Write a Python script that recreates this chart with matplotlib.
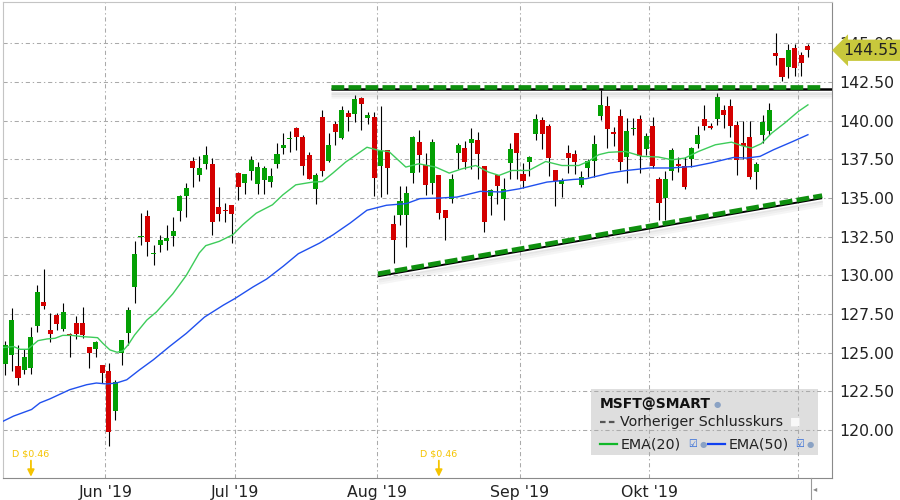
import numpy as np
import pandas as pd
import matplotlib
matplotlib.use('Agg')
import matplotlib.pyplot as plt
import matplotlib.transforms as mtrans
import matplotlib.patheffects as pe
from matplotlib.patches import Rectangle
from matplotlib.lines import Line2D

# trading days shown (May 9 - Nov 4, 2019)
days = pd.bdate_range('2019-05-09', '2019-11-04')
days = days[~days.isin(pd.to_datetime(['2019-05-27', '2019-07-04', '2019-09-02']))]

opens = [124.28, 124.88, 124.15, 123.85, 123.98, 126.75, 128.27, 126.47, 127.43, 126.53, 126.21, 126.92, 126.92, 125.37, 125.25, 124.20,
         123.83, 121.26, 124.95, 126.30, 129.24, 132.46, 133.85, 131.36, 131.98, 132.24, 132.56, 134.13, 135.10, 137.39, 136.49, 137.22, 137.22, 134.41, 134.24, 134.56,
         136.62, 136.00, 136.75, 135.93, 136.17, 136.04, 137.22, 138.22, 138.80, 139.50, 138.95, 137.75, 135.56, 140.25, 137.41, 139.76, 138.90, 140.50, 140.42, 141.48, 140.19, 140.25,
         137.04, 138.11, 133.30, 133.88, 133.88, 136.63, 138.65, 137.15, 135.99, 136.46, 134.21, 134.96, 137.92, 138.24, 138.56, 138.76, 137.06, 135.13, 136.46, 134.96, 137.27, 139.21,
         136.55, 137.35, 139.14, 140.04, 139.68, 136.83, 135.91, 137.91, 137.82, 135.86, 136.93, 137.40, 140.32, 140.95, 139.25, 140.30, 137.63, 139.44, 140.09, 138.17,
         139.66, 136.23, 134.98, 136.77, 137.20, 137.07, 137.50, 138.47, 140.11, 139.68, 140.09, 140.69, 140.95, 139.72, 138.53, 138.97, 136.70, 139.07, 139.35, 144.40, 144.07, 143.45, 144.68, 144.27, 144.83]
highs = [125.78, 127.86, 125.50, 125.22, 126.64, 129.36, 130.39, 127.58, 127.54, 128.22, 126.25, 127.37, 127.94, 125.37, 125.76, 124.20,
         124.33, 123.25, 125.82, 127.97, 132.24, 134.02, 134.24, 131.98, 132.63, 133.27, 133.74, 135.20, 135.95, 137.67, 137.71, 138.36, 137.56, 135.72, 134.69, 134.56,
         136.71, 136.56, 137.74, 137.33, 137.09, 136.94, 138.57, 139.20, 139.30, 139.57, 139.10, 137.97, 136.63, 140.69, 139.19, 140.00, 140.97, 140.70, 141.69, 141.50, 140.57, 140.54,
         140.97, 138.11, 133.88, 135.77, 135.77, 139.03, 139.42, 137.92, 138.82, 136.46, 134.21, 136.57, 138.56, 138.71, 139.51, 139.29, 137.06, 135.60, 136.46, 136.29, 138.56, 139.21,
         137.26, 137.74, 140.43, 140.22, 139.78, 136.83, 136.27, 138.43, 138.10, 136.77, 137.54, 139.07, 141.98, 141.60, 139.60, 140.73, 140.15, 140.15, 140.37, 139.18,
         140.26, 136.38, 136.75, 138.25, 137.67, 137.67, 138.32, 139.66, 141.01, 139.83, 141.77, 141.01, 141.40, 140.00, 140.00, 140.00, 137.35, 140.37, 141.17, 145.69, 144.07, 144.96, 144.96, 144.42, 144.96]
lows = [123.53, 123.79, 122.93, 123.64, 123.64, 126.36, 127.82, 125.72, 126.47, 126.40, 124.69, 125.91, 125.97, 123.98, 124.69, 123.04,
        118.97, 120.64, 124.18, 125.50, 128.21, 131.94, 131.23, 130.65, 131.49, 131.62, 131.88, 133.49, 133.74, 135.68, 136.10, 136.90, 132.63, 133.53, 133.42, 132.10,
        134.88, 135.27, 136.17, 135.27, 135.27, 135.74, 136.96, 137.84, 137.97, 138.10, 136.46, 136.20, 134.60, 136.40, 137.33, 138.44, 138.82, 139.30, 139.90, 139.40, 139.79, 135.13,
        135.06, 135.28, 130.77, 133.24, 131.85, 135.99, 136.67, 135.17, 135.28, 133.67, 132.27, 134.70, 136.89, 136.89, 136.89, 136.24, 132.77, 133.93, 134.64, 133.56, 136.24, 136.24,
        135.62, 136.40, 138.77, 138.17, 136.44, 134.50, 135.04, 136.62, 136.55, 135.69, 136.38, 136.38, 140.04, 138.21, 138.36, 136.81, 135.95, 139.07, 136.60, 137.78,
        136.92, 133.58, 133.58, 136.16, 136.70, 135.56, 137.03, 138.25, 139.40, 139.44, 139.72, 139.50, 138.97, 136.49, 137.50, 136.20, 135.56, 138.58, 139.07, 143.60, 142.57, 142.74, 142.89, 142.91, 144.10]
closes = [125.50, 127.11, 123.34, 124.73, 125.99, 128.91, 128.03, 126.23, 126.87, 127.62, 126.12, 126.23, 126.17, 124.95, 125.69, 123.66,
          119.87, 123.13, 125.82, 127.75, 131.41, 132.56, 132.14, 131.47, 132.31, 132.44, 132.84, 135.14, 135.63, 136.96, 136.96, 137.78, 133.42, 133.94, 134.13, 133.94,
          135.68, 136.56, 137.46, 137.00, 136.92, 136.43, 137.86, 138.40, 138.91, 138.94, 137.10, 136.25, 136.46, 136.72, 138.43, 139.29, 140.72, 140.25, 141.38, 141.06, 140.35, 136.31,
          138.07, 136.95, 132.27, 134.79, 135.34, 138.97, 137.75, 135.86, 138.65, 134.06, 133.71, 136.20, 138.43, 137.32, 138.82, 137.85, 133.45, 135.49, 135.77, 135.60, 138.18, 137.92,
          136.10, 137.65, 140.11, 139.14, 137.59, 136.12, 136.19, 137.61, 137.35, 136.34, 137.40, 138.50, 141.00, 139.44, 139.16, 137.35, 139.33, 139.55, 137.74, 139.00,
          137.09, 134.66, 136.20, 138.10, 137.07, 135.69, 138.21, 139.07, 139.68, 139.55, 141.51, 140.37, 139.66, 137.46, 138.36, 136.38, 137.20, 139.94, 140.69, 144.19, 142.85, 144.57, 143.38, 143.70, 144.55]

# EMA lines (trading-day index, price)
ema20_idx = [-0.4, 1.3, 2.3, 3.5, 4.3, 5.1, 6.5, 7.7, 8.9, 10.3, 11.9, 13.4, 14.3, 15.1, 16.2, 17.3, 18.2, 19.0, 20.0, 21.9, 23.4, 25.9, 28.0, 30.0, 31.0,
             33.1, 35.2, 36.7, 38.8, 41.3, 42.9, 44.9, 47.5, 49.0, 50.6, 52.6, 55.9, 57.8, 59.3, 61.9, 63.9, 66.5, 68.6, 70.6, 72.7, 74.7, 76.3, 78.3,
             80.9, 83.5, 86.0, 88.6, 90.1, 91.7, 93.2, 95.8, 98.4, 100.9, 103.0, 105.0, 107.1, 109.7, 112.2, 113.8, 115.3, 116.8, 118.4, 120.4, 122.5, 124.0]
ema20_val = [125.33, 125.40, 125.22, 125.22, 125.50, 125.78, 125.89, 125.93, 126.12, 126.12, 126.04, 126.00, 125.97, 125.61, 125.18, 125.03, 125.12, 125.50,
             126.14, 127.11, 127.64, 128.80, 130.00, 131.45, 131.92, 132.20, 132.63, 133.27, 134.02, 134.56, 135.20, 135.85, 136.03, 136.06, 136.60, 137.32,
             138.28, 138.07, 138.00, 137.00, 137.21, 137.00, 136.61, 136.89, 137.10, 136.67, 136.46, 136.78, 136.78, 137.36, 137.10, 137.10, 137.37, 137.80,
             137.95, 138.01, 137.69, 137.65, 137.47, 137.58, 138.01, 138.44, 138.61, 138.38, 138.23, 138.51, 139.19, 139.84, 140.59, 141.02]
ema50_idx = [-0.4, 1.3, 4.1, 5.4, 6.9, 10.0, 12.6, 14.1, 15.7, 17.2, 18.8, 20.8, 22.9, 25.4, 28.0, 30.8, 33.7, 35.5, 38.3, 40.4, 43.0, 45.3, 48.6, 50.7, 51.7,
             53.3, 55.9, 58.9, 62.0, 64.1, 67.2, 69.8, 73.4, 76.5, 79.5, 83.7, 87.8, 89.8, 93.4, 96.0, 99.6, 102.7, 106.3, 108.9, 112.5, 114.5, 116.6, 118.7, 121.7, 124.0]
ema50_val = [120.55, 120.90, 121.33, 121.76, 122.01, 122.61, 122.93, 123.04, 122.98, 123.04, 123.25, 123.90, 124.54, 125.40, 126.25, 127.30, 128.07, 128.50,
             129.25, 129.76, 130.60, 131.40, 132.09, 132.63, 132.92, 133.38, 134.21, 134.53, 134.64, 134.96, 135.00, 135.06, 135.43, 135.39, 135.60, 136.03,
             136.20, 136.25, 136.61, 136.78, 136.94, 136.94, 137.04, 137.26, 137.62, 137.58, 137.69, 138.12, 138.66, 139.09]

# drawn trend lines
resist_start = 50.3
resist_level = 142.2
support_idx = [57.6, 126.2]
support_px = [130.1, 135.15]

div_dates = ['2019-05-15', '2019-08-14']
div_labels = ['D $0.46', 'D $0.46']

month_names = {6: "Jun '19", 7: "Jul '19", 8: "Aug '19", 9: "Sep '19", 10: "Okt '19", 11: ""}

UP = '#04a004'
DOWN = '#d40000'
LINE_GREEN = '#0f900f'
GOLD = '#f5c400'

fig = plt.figure(figsize=(9, 5), dpi=100)
ax = fig.add_axes([2.7 / 900, 1 - 477.7 / 500, (832 - 2.7) / 900, (477.7 - 2.3) / 500])
ax.set_xlim(-0.36, 127.72)
ax.set_ylim(116.92, 147.65)

x = np.arange(len(days))
o = np.array(opens); h = np.array(highs); l = np.array(lows); c = np.array(closes)
cols = [UP if cc >= oo else DOWN for oo, cc in zip(o, c)]
ax.vlines(x, l, h, color='black', lw=0.8, zorder=2)
body = np.maximum(np.abs(c - o), 0.09)
ax.bar(x, body, bottom=np.minimum(o, c), width=0.78, color=cols, zorder=3, linewidth=0)

ax.plot(ema20_idx, ema20_val, color='#3dcc5a', lw=1.0, zorder=4)
ax.plot(ema50_idx, ema50_val, color='#2050ee', lw=1.0, zorder=4)

# trend lines with soft shadow
shadow = [pe.SimpleLineShadow(offset=(0.5, -2.5), shadow_color='#888888', alpha=0.22),
          pe.SimpleLineShadow(offset=(0.5, -4.0), shadow_color='#888888', alpha=0.14),
          pe.SimpleLineShadow(offset=(0.5, -5.5), shadow_color='#888888', alpha=0.08),
          pe.Normal()]
ax.plot([resist_start, 128], [resist_level - 0.17] * 2, color='black', lw=1.8,
        zorder=5, path_effects=shadow, solid_capstyle='butt')
ax.plot([resist_start, 126.4], [resist_level] * 2, color=LINE_GREEN, lw=3.4,
        dashes=(2.7, 0.9), zorder=6)
ax.plot(support_idx, [p - 0.16 for p in support_px], color='black', lw=1.4,
        zorder=5, path_effects=shadow, solid_capstyle='butt')
ax.plot(support_idx, support_px, color=LINE_GREEN, lw=3.4, dashes=(2.7, 0.9), zorder=6)

# grid, ticks
month_pos = []
month_lab = []
for m in sorted(set(days.month)):
    if m in month_names:
        first = np.where(days.month == m)[0][0]
        month_pos.append(first - 0.5)
        month_lab.append(month_names[m])
ax.set_xticks(month_pos)
ax.set_xticklabels(month_lab)
ax.set_yticks(np.arange(120, 145.01, 2.5))
ax.yaxis.set_major_formatter(matplotlib.ticker.FormatStrFormatter('%.2f'))
ax.yaxis.tick_right()
ax.tick_params(axis='both', length=0, labelsize=11.3, colors='#222222')
ax.tick_params(axis='y', pad=5)
ax.tick_params(axis='x', pad=5)
ax.grid(True, color='#aaaaaa', lw=0.75, linestyle=(0, (4, 2.7, 1.3, 2.7)))
ax.set_axisbelow(True)
for s in ['top', 'left']:
    ax.spines[s].set_color('#c4c4c4')
for s in ['right', 'bottom']:
    ax.spines[s].set_color('#8a8a8a')

# dividend markers
btr = mtrans.blended_transform_factory(ax.transData, ax.transAxes)
for d, lab in zip(div_dates, div_labels):
    xi = days.get_loc(pd.Timestamp(d))
    ax.text(xi, 0.05, lab, transform=btr, ha='center', va='center', fontsize=6.8, color=GOLD)
    ax.annotate('', xy=(xi, 0.002), xytext=(xi, 0.036), xycoords=btr, textcoords=btr,
                arrowprops=dict(arrowstyle='-|>', color=GOLD, lw=1.3, mutation_scale=10,
                                shrinkA=0, shrinkB=0))

# last price callout (covers the 145.00 label like the original)
rtr = mtrans.blended_transform_factory(ax.transAxes, ax.transData)
ax.text(1.014, closes[-1], '%.2f' % closes[-1], transform=rtr, ha='left', va='center',
        fontsize=11.3, color='#222222', zorder=10, clip_on=False,
        bbox=dict(boxstyle='larrow,pad=0.2', fc='#c8c83c', ec='none'))

# legend box
def fx(px):
    return px / 900


def fy(py):
    return 1 - py / 500


ax.add_patch(Rectangle((fx(591), fy(455)), fx(818) - fx(591), fy(389) - fy(455),
                       transform=fig.transFigure, fc='#dedede', ec='none', zorder=0.2))
fig.text(fx(600), fy(404), 'MSFT@SMART', fontsize=10, fontweight='bold', color='#111111', va='center')
fig.text(fx(714), fy(404), '●', fontsize=6, color='#8aa2c4', va='center')
fig.add_artist(Line2D([fx(600), fx(616)], [fy(422), fy(422)], color='#555555', lw=1.6, dashes=(2.5, 1.5)))
fig.text(fx(620), fy(422), 'Vorheriger Schlusskurs', fontsize=10.3, color='#222222', va='center')
fig.text(fx(790), fy(422), '■', fontsize=8, color='#f8f8f8', va='center')
fig.add_artist(Line2D([fx(600), fx(617)], [fy(444), fy(444)], color='#10b828', lw=1.6))
fig.text(fx(621), fy(444), 'EMA(20)', fontsize=10.3, color='#222222', va='center')
fig.text(fx(688), fy(444), '☑', fontsize=7, color='#2a66d8', va='center')
fig.text(fx(700), fy(444), '●', fontsize=6, color='#8aa2c4', va='center')
fig.add_artist(Line2D([fx(708), fx(725)], [fy(444), fy(444)], color='#1040f0', lw=1.6))
fig.text(fx(729), fy(444), 'EMA(50)', fontsize=10.3, color='#222222', va='center')
fig.text(fx(795), fy(444), '☑', fontsize=7, color='#2a66d8', va='center')
fig.text(fx(807), fy(444), '●', fontsize=6, color='#8aa2c4', va='center')

# small scroll marker bottom right
fig.add_artist(Line2D([fx(811), fx(811)], [fy(478), fy(500)], color='#999999', lw=0.8))
fig.text(fx(813), fy(489), '◂', fontsize=6, color='#888888', va='center')

fig.savefig('out.png', dpi=100)
